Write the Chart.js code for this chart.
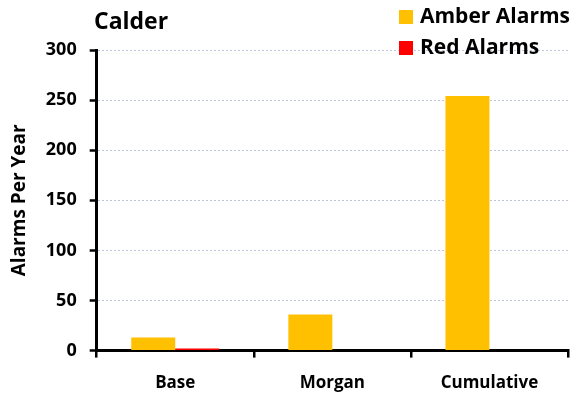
<!DOCTYPE html>
<html lang="en">
<head>
<meta charset="UTF-8">
<title>Calder</title>
<script src="https://cdn.jsdelivr.net/npm/chart.js@4.4.2/dist/chart.umd.min.js"></script>
<style>
    html, body { margin: 0; padding: 0; background: #fff; overflow: hidden; }
    #wrap { width: 576px; height: 408px; position: relative; }
</style>
</head>
<body>
<div id="wrap"><canvas id="chart"></canvas></div>
<script>
    // --- Data ---
    const categories = ['Base', 'Morgan', 'Cumulative'];
    const amberAlarms = [13, 36, 254];
    const redAlarms = [2, 0, 0];
    const yTicks = [0, 50, 100, 150, 200, 250, 300];

    const FONT = '"Open Sans", "Noto Sans", sans-serif';

    // title + legend drawn where the original places them (legend sits over the plot)
    const headerPlugin = {
        id: 'header',
        afterDraw(chart) {
            const ctx = chart.ctx;
            ctx.save();
            ctx.fillStyle = '#000';
            ctx.textBaseline = 'middle';
            ctx.font = 'bold 23px ' + FONT;
            ctx.fillText('Calder', 94, 22);

            const items = [['Amber Alarms', '#ffc000', 17], ['Red Alarms', '#ff0000', 48]];
            ctx.font = 'bold 21px ' + FONT;
            items.forEach(([label, color, y]) => {
                ctx.fillStyle = color;
                ctx.fillRect(399, y - 7, 14, 14);
                ctx.fillStyle = '#000';
                ctx.fillText(label, 420, y);
            });
            ctx.restore();
        }
    };

    new Chart(document.getElementById('chart'), {
        type: 'bar',
        data: {
            labels: categories,
            datasets: [
                { label: 'Amber Alarms', data: amberAlarms, backgroundColor: '#ffc000' },
                { label: 'Red Alarms', data: redAlarms, backgroundColor: '#ff0000' }
            ]
        },
        options: {
            responsive: true,
            maintainAspectRatio: false,
            animation: false,
            categoryPercentage: 0.56,
            barPercentage: 1.0,
            layout: { padding: { top: 50, right: 8, left: 8, bottom: 0 } },
            plugins: {
                legend: { display: false },
                tooltip: { enabled: false }
            },
            scales: {
                x: {
                    grid: {
                        display: true,
                        drawOnChartArea: false,
                        drawTicks: true,
                        tickLength: 7,
                        tickColor: '#000',
                        lineWidth: 2.5,
                        offset: true
                    },
                    border: { display: true, color: '#000', width: 3 },
                    ticks: {
                        color: '#000',
                        font: { family: FONT, size: 17, weight: 'bold' },
                        padding: 15
                    }
                },
                y: {
                    min: 0,
                    max: 300,
                    afterBuildTicks(axis) { axis.ticks = yTicks.map(v => ({ value: v })); },
                    grid: {
                        color: '#bcc6d8',
                        lineWidth: 1,
                        tickColor: '#000',
                        tickLength: 7,
                        tickWidth: 2.5,
                        drawTicks: true
                    },
                    border: { display: true, color: '#000', width: 3, dash: [2, 2] },
                    ticks: {
                        color: '#000',
                        font: { family: FONT, size: 18, weight: 'bold' },
                        padding: 13
                    },
                    title: {
                        display: true,
                        text: 'Alarms Per Year',
                        color: '#000',
                        font: { family: FONT, size: 19, weight: 'bold' },
                        padding: { top: 0, bottom: 2 }
                    }
                }
            }
        },
        plugins: [headerPlugin]
    });
</script>
</body>
</html>
